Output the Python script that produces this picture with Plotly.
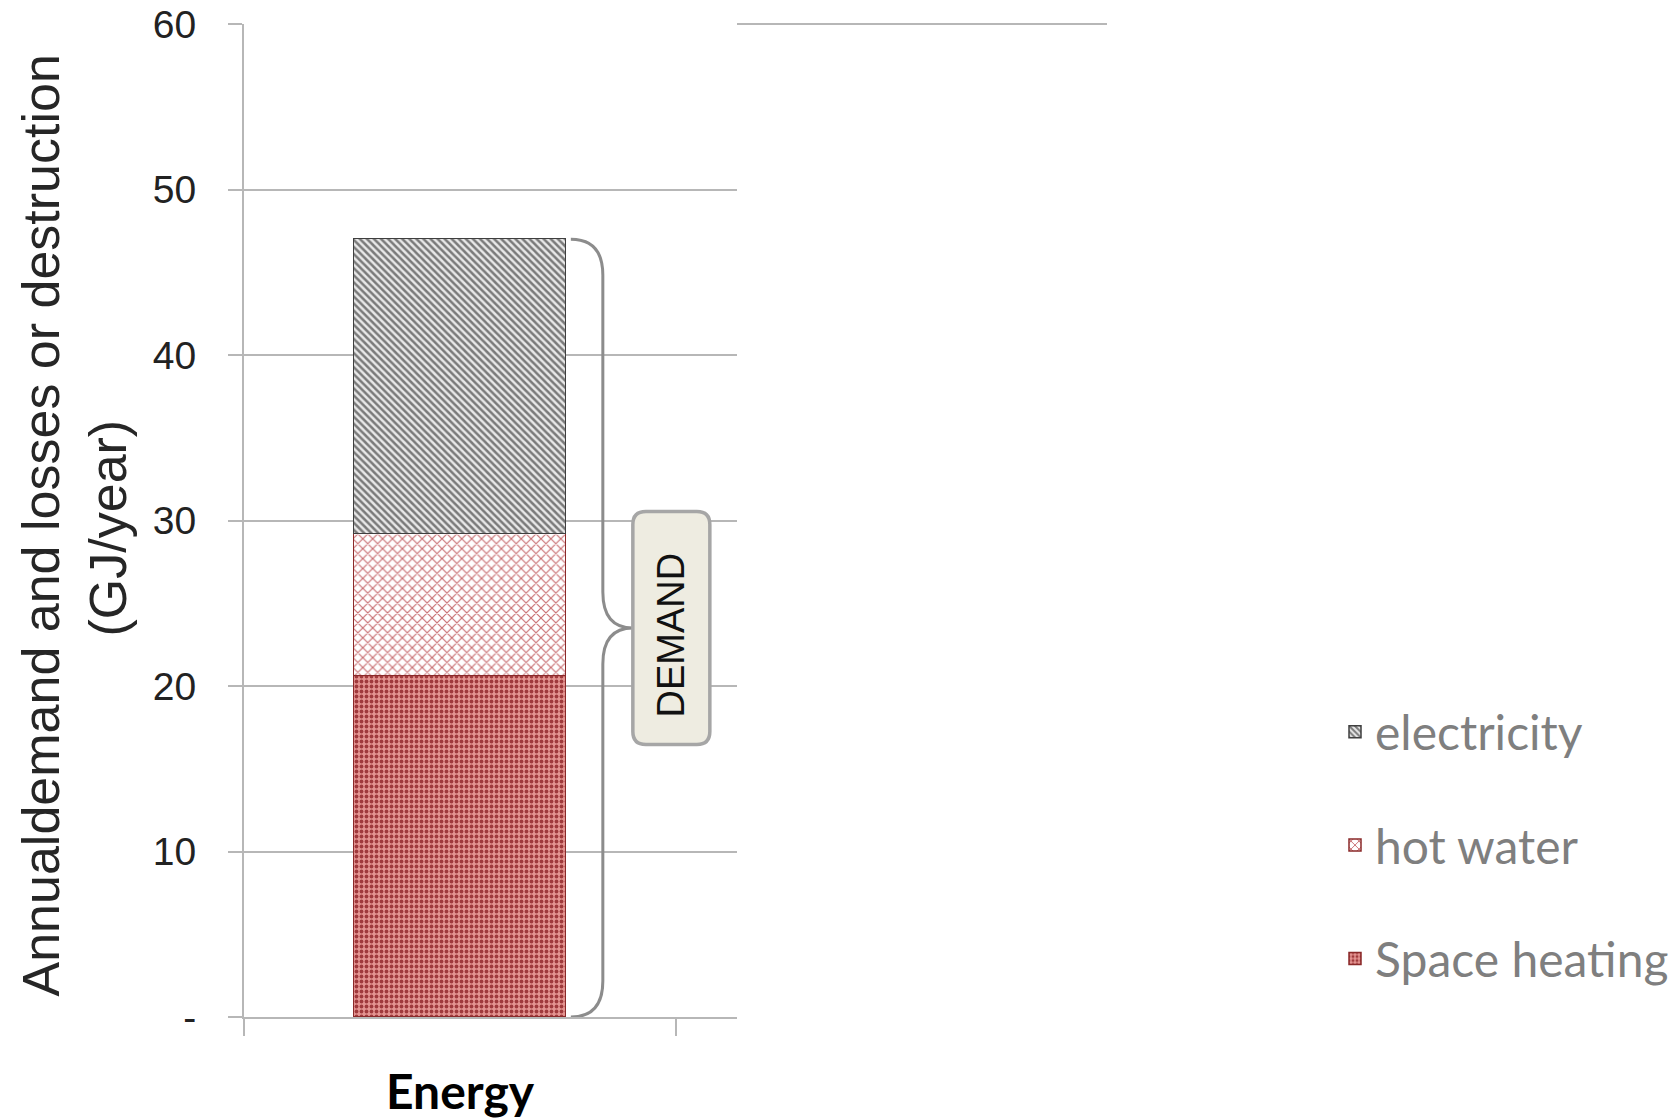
import plotly.graph_objects as go

# ---- data -------------------------------------------------------------
categories = ["Energy"]
space_heating = [20.6]
hot_water = [8.6]
electricity = [17.8]

y_tick_values = [0, 10, 20, 30, 40, 50, 60]
y_tick_labels = ["-", "10", "20", "30", "40", "50", "60"]

brace_label = "DEMAND"
y_title_line1 = "Annualdemand and losses or destruction"
y_title_line2 = "(GJ/year)"

# ---- styling ----------------------------------------------------------
W, H = 1680, 1120
M_L, M_R, M_T, M_B = 244, 943, 24, 103
PLOT_W = W - M_L - M_R
PLOT_H = H - M_T - M_B
X_RANGE = [-0.5, -0.5 + PLOT_W / 432.0]
Y_RANGE = [0, 60]
PX_X = PLOT_W / (X_RANGE[1] - X_RANGE[0])
PX_Y = PLOT_H / (Y_RANGE[1] - Y_RANGE[0])
BAR_W = 0.49

GRID = "#b7b7b7"
TEXT_DARK = "#262626"
LEGEND_GRAY = "#7f7f7f"
SANS = "Liberation Sans, Arial, sans-serif"
LEGEND_FONT = "Lato, Open Sans, sans-serif"

x_pos = list(range(len(categories)))

fig = go.Figure()

fig.add_trace(go.Bar(
    x=x_pos, y=space_heating, name="Space heating", width=BAR_W,
    legendgroup="sh", legendrank=3,
    marker=dict(
        color="#e2908d",
        pattern=dict(shape=".", fgcolor="#a03a3c", bgcolor="#e59592",
                     size=5, solidity=0.45, fillmode="replace"),
        line=dict(color="#8a2a2a", width=1.5),
    ),
))
fig.add_trace(go.Bar(
    x=x_pos, y=hot_water, name="hot water", width=BAR_W,
    legendgroup="hw", legendrank=2,
    marker=dict(
        color="#ffffff",
        pattern=dict(shape="x", fgcolor="#c86d70", bgcolor="#ffffff",
                     size=7, solidity=0.3, fillmode="replace"),
        line=dict(color="#8a2a2a", width=1.5),
    ),
))
fig.add_trace(go.Bar(
    x=x_pos, y=electricity, name="electricity", width=BAR_W,
    legendgroup="el", legendrank=1,
    marker=dict(
        color="#ffffff",
        pattern=dict(shape="\\", fgcolor="#7a7a7a", bgcolor="#e8e8e8",
                     size=5, solidity=0.5, fillmode="replace"),
        line=dict(color="#3f3f3f", width=1.5),
    ),
))

# ---- curly brace spanning the whole demand stack ----------------------
total = space_heating[0] + hot_water[0] + electricity[0]
mid = total / 2
bar_right = x_pos[0] + BAR_W / 2
xe = bar_right + 5 / PX_X          # where the brace meets the bar
xl = bar_right + 37 / PX_X         # vertical stem of the brace
xt = bar_right + 67 / PX_X         # tip of the brace
ry = 36 / PX_Y                     # curve radius in y units

brace_path = (
    f"M {xe},{total} Q {xl},{total} {xl},{total - ry} "
    f"L {xl},{mid + ry} Q {xl},{mid} {xt},{mid} "
    f"Q {xl},{mid} {xl},{mid - ry} "
    f"L {xl},{ry} Q {xl},0 {xe},0"
)
fig.add_shape(type="path", path=brace_path, xref="x", yref="y",
              line=dict(color="#8c8c8c", width=3), layer="above")

# ---- rounded label box next to the brace ------------------------------
bw, bh, r = 38.5, 116.5, 13
box_cx = xt + bw / PX_X
box_path = (
    f"M {-bw + r},{-bh} L {bw - r},{-bh} Q {bw},{-bh} {bw},{-bh + r} "
    f"L {bw},{bh - r} Q {bw},{bh} {bw - r},{bh} "
    f"L {-bw + r},{bh} Q {-bw},{bh} {-bw},{bh - r} "
    f"L {-bw},{-bh + r} Q {-bw},{-bh} {-bw + r},{-bh} Z"
)
fig.add_shape(type="path", path=box_path, xref="x", yref="y",
              xsizemode="pixel", ysizemode="pixel",
              xanchor=box_cx, yanchor=mid,
              fillcolor="#eeece1", line=dict(color="#a6a6a6", width=3.5),
              layer="above")
fig.add_annotation(x=box_cx, y=mid, xref="x", yref="y", text=brace_label,
                   textangle=-90, showarrow=False, yshift=-7,
                   font=dict(family=SANS, size=38, color="#111111"))

# ---- top gridline runs past the plot area -----------------------------
fig.add_shape(type="line", xref="paper", yref="paper",
              x0=1.0, x1=(1107 - M_L) / PLOT_W, y0=1, y1=1,
              line=dict(color=GRID, width=2))

# ---- category label ---------------------------------------------------
fig.add_annotation(x=x_pos[0], y=0, xref="x", yref="paper",
                   text=f"<b>{categories[0]}</b>", showarrow=False,
                   yanchor="middle", yshift=-73,
                   font=dict(family=LEGEND_FONT, size=48, color="#000000"))

# ---- y-axis title (two lines) -----------------------------------------
fig.add_annotation(x=(40 - M_L) / PLOT_W, y=0.5, xref="paper", yref="paper",
                   text=y_title_line1, textangle=-90, showarrow=False,
                   xanchor="center", yanchor="middle", yshift=-5,
                   font=dict(family=SANS, size=52, color=TEXT_DARK))
fig.add_annotation(x=(107 - M_L) / PLOT_W, y=0.5, xref="paper", yref="paper",
                   text=y_title_line2, textangle=-90, showarrow=False,
                   xanchor="center", yanchor="middle", yshift=-8,
                   font=dict(family=SANS, size=52, color=TEXT_DARK))

fig.update_layout(
    width=W, height=H, autosize=False,
    margin=dict(l=M_L, r=M_R, t=M_T, b=M_B, pad=0, autoexpand=False),
    paper_bgcolor="white", plot_bgcolor="white",
    barmode="stack", bargap=0,
    showlegend=True,
    legend=dict(
        xref="container", yref="container",
        x=1335 / W, y=1 - 694 / H, xanchor="left", yanchor="top",
        traceorder="grouped", tracegroupgap=48,
        font=dict(family=LEGEND_FONT, size=48, color=LEGEND_GRAY),
        bgcolor="rgba(0,0,0,0)",
    ),
    xaxis=dict(
        range=X_RANGE, showgrid=False, zeroline=False,
        showline=True, linecolor=GRID, linewidth=2,
        tickvals=[-0.5, 0.5], ticktext=["", ""],
        ticks="outside", ticklen=17, tickwidth=2, tickcolor=GRID,
        fixedrange=True, automargin=False,
    ),
    yaxis=dict(
        range=Y_RANGE, tickvals=y_tick_values, ticktext=y_tick_labels,
        showgrid=True, gridcolor=GRID, gridwidth=2,
        zeroline=False, showline=True, linecolor=GRID, linewidth=2,
        ticks="outside", ticklen=14, tickwidth=2, tickcolor=GRID,
        ticklabelstandoff=24,
        tickfont=dict(family=SANS, size=39, color="#222222"),
        fixedrange=True, automargin=False,
    ),
)

fig.write_html("out.html")
